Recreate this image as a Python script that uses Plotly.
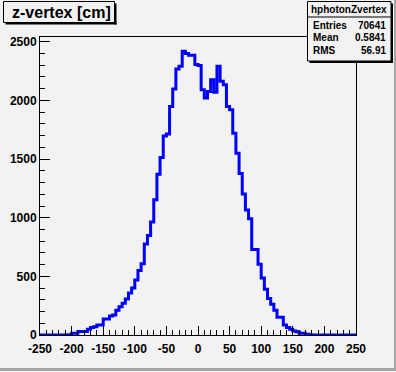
import plotly.graph_objects as go

# ---------------- data ----------------
bin_low = -250.0
bin_width = 5.0
counts = [
    0, 0, 0, 0, 0, 0, 0, 0, 0, 2,
    14, 14, 29, 29, 29, 48, 63, 70, 86, 86,
    137, 137, 163, 171, 211, 240, 270, 308, 358, 400,
    469, 550, 608, 775, 849, 963, 1154, 1371, 1514, 1697,
    1714, 1949, 2097, 2269, 2291, 2420, 2400, 2386, 2386, 2306,
    2297, 2091, 2020, 2077, 2177, 2069, 2291, 2163, 2134, 1949,
    1920, 1720, 1549, 1377, 1203, 1066, 991, 730, 730, 603,
    486, 391, 312, 263, 211, 152, 152, 86, 63, 49,
    34, 27, 14, 14, 6, 2, 0, 0, 0, 0,
    0, 0, 0, 0, 0, 0, 0, 0, 0, 0,
]
x_ticks = [-250, -200, -150, -100, -50, 0, 50, 100, 150, 200, 250]
y_ticks = [0, 500, 1000, 1500, 2000, 2500]
title_text = "z-vertex [cm]"
hist_name = "hphotonZvertex"
stats_labels = ["Entries", "Mean", "RMS"]
stats_values = ["70641", "0.5841", "56.91"]

# ---------------- derived ----------------
edges = [bin_low + bin_width * i for i in range(len(counts) + 1)]
y_step = counts + [counts[-1]]
y_max = 1.05 * max(counts)

W, H = 396, 372
L, R, T, B = 40, 40, 37, 37
pw, ph = W - L - R, H - T - B


def px(x):
    return (x - L) / pw


def py(y):
    return (H - B - y) / ph


BG = "#f2f2f2"
FONT = "Liberation Sans"

fig = go.Figure()
fig.add_trace(go.Scatter(
    x=edges, y=y_step, mode="lines", line_shape="hv",
    line=dict(color="#0000ff", width=3), hoverinfo="skip", showlegend=False,
))

axis_common = dict(
    showgrid=False, zeroline=False, showline=True, linecolor="black",
    linewidth=1, mirror=True, ticks="inside", tickcolor="black",
    tickwidth=1, automargin=False,
    tickfont=dict(family=FONT, size=12, color="black", weight="bold"),
)

fig.update_xaxes(
    range=[edges[0], edges[-1]], tickvals=x_ticks,
    ticktext=[str(v) for v in x_ticks], ticklen=9, ticklabelstandoff=3,
    minor=dict(ticks="inside", ticklen=5, dtick=10, tick0=-250,
               tickcolor="black", tickwidth=1, showgrid=False),
    **axis_common,
)
fig.update_yaxes(
    range=[0, y_max], tickvals=y_ticks,
    ticktext=[str(v) for v in y_ticks], ticklen=10,
    minor=dict(ticks="inside", ticklen=5, dtick=100, tick0=0,
               tickcolor="black", tickwidth=1, showgrid=False),
    **axis_common,
)

shapes = []


def rect(x0, y0, x1, y1, fill, line_w=0, line_c="black"):
    shapes.append(dict(
        type="rect", xref="paper", yref="paper",
        x0=px(x0), x1=px(x1), y0=py(y1), y1=py(y0),
        fillcolor=fill, line=dict(width=line_w, color=line_c), layer="above",
    ))


# canvas border (bottom/right dark band)
rect(394, 0, 396, 371, "#a6a6a6")
rect(0, 368, 396, 371, "#a6a6a6")

# title box + shadow
rect(3.5, 1.5, 114.5, 22.5, BG, 1)
rect(114.5, 3.5, 116.5, 24.5, "black")
rect(5.5, 22.5, 116.5, 24.5, "black")

# stats box + shadow
rect(307.5, 1.5, 391, 61, BG, 1)
rect(391, 3.5, 393, 63, "black")
rect(309.5, 61, 393, 63, "black")
shapes.append(dict(type="line", xref="paper", yref="paper",
                   x0=px(307.5), x1=px(391), y0=py(17), y1=py(17),
                   line=dict(color="black", width=1), layer="above"))

annotations = [
    dict(text=title_text, x=px(10), y=py(12), xref="paper", yref="paper",
         xanchor="left", yanchor="middle", showarrow=False,
         font=dict(family=FONT, size=16, color="black", weight="bold")),
    dict(text=hist_name, x=px(349), y=py(9.5), xref="paper", yref="paper",
         xanchor="center", yanchor="middle", showarrow=False,
         font=dict(family=FONT, size=10, color="black", weight="bold")),
]
for i, (lab, val) in enumerate(zip(stats_labels, stats_values)):
    yy = 25 + 12.5 * i
    annotations.append(dict(text=lab, x=px(311), y=py(yy), xref="paper",
                            yref="paper", xanchor="left", yanchor="middle",
                            showarrow=False,
                            font=dict(family=FONT, size=10, color="black",
                                      weight="bold")))
    annotations.append(dict(text=val, x=px(387.5), y=py(yy), xref="paper",
                            yref="paper", xanchor="right", yanchor="middle",
                            showarrow=False,
                            font=dict(family=FONT, size=10, color="black",
                                      weight="bold")))

fig.update_layout(
    width=W, height=H, margin=dict(l=L, r=R, t=T, b=B, pad=0),
    paper_bgcolor=BG, plot_bgcolor=BG,
    shapes=shapes, annotations=annotations, showlegend=False,
)

fig.write_html(
    "out.html",
    config={"displayModeBar": False, "staticPlot": True},
    post_script="document.body.style.margin='0';"
                "document.body.style.padding='0';"
                "document.body.style.overflow='hidden';",
)
